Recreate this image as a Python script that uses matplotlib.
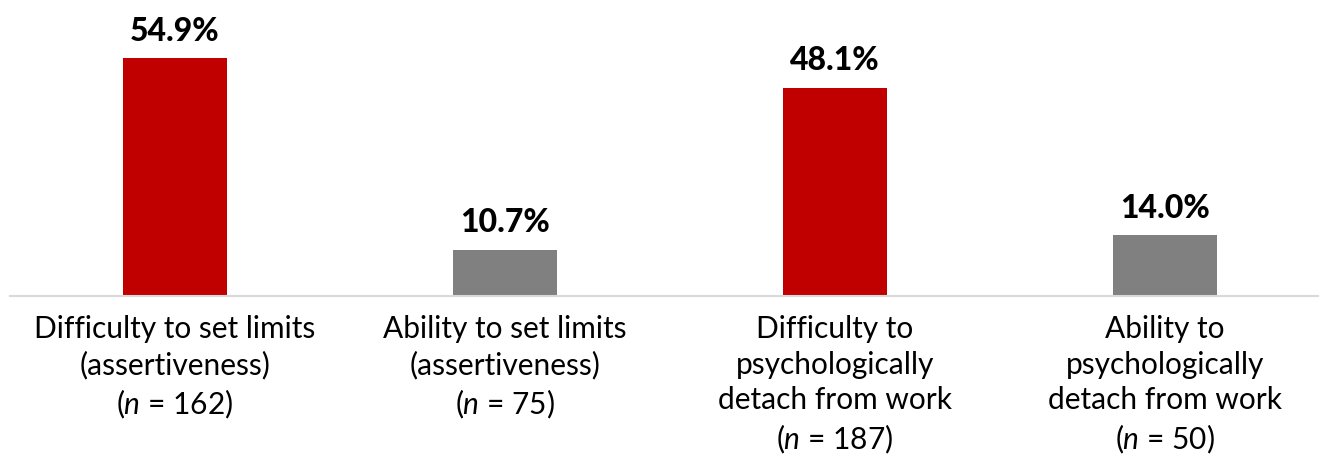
import matplotlib.pyplot as plt

plt.rcParams["font.family"] = ["Lato", "DejaVu Sans"]
plt.rcParams["mathtext.fontset"] = "custom"
plt.rcParams["mathtext.it"] = "Lato:italic"
plt.rcParams["mathtext.rm"] = "Lato"

categories = [
    "Difficulty to set limits\n(assertiveness)",
    "Ability to set limits\n(assertiveness)",
    "Difficulty to\npsychologically\ndetach from work",
    "Ability to\npsychologically\ndetach from work",
]
sample_sizes = [162, 75, 187, 50]
values = [54.9, 10.7, 48.1, 14.0]
colors = ["#c00000", "#808080", "#c00000", "#808080"]

W, H = 1319, 455
fig = plt.figure(figsize=(W / 100, H / 100), dpi=100)
ax = fig.add_axes([10 / W, 159 / H, 1309 / W, 296 / H])

x = list(range(len(values)))
bars = ax.bar(x, values, width=0.315, color=colors)
ax.set_xlim(-0.5, -0.5 + 1309 / 330)
ax.set_ylim(0, 296 / 4.33)

for b, v in zip(bars, values):
    ax.annotate(f"{v:.1f}%", (b.get_x() + b.get_width() / 2, v),
                xytext=(0, 9), textcoords="offset points",
                ha="center", va="bottom", fontsize=23, fontweight="black")

labels = [f"{c}\n($\\it{{n}}$ = {n})" for c, n in zip(categories, sample_sizes)]
ax.set_xticks(x)
ax.set_xticklabels(labels, fontsize=21.5, linespacing=1.32, va="top")
ax.tick_params(axis="x", length=0, pad=14)
ax.set_yticks([])

for s in ["top", "left", "right"]:
    ax.spines[s].set_visible(False)
ax.spines["bottom"].set_color("#d9d9d9")
ax.spines["bottom"].set_linewidth(1.5)

fig.savefig("out.png", dpi=100)
